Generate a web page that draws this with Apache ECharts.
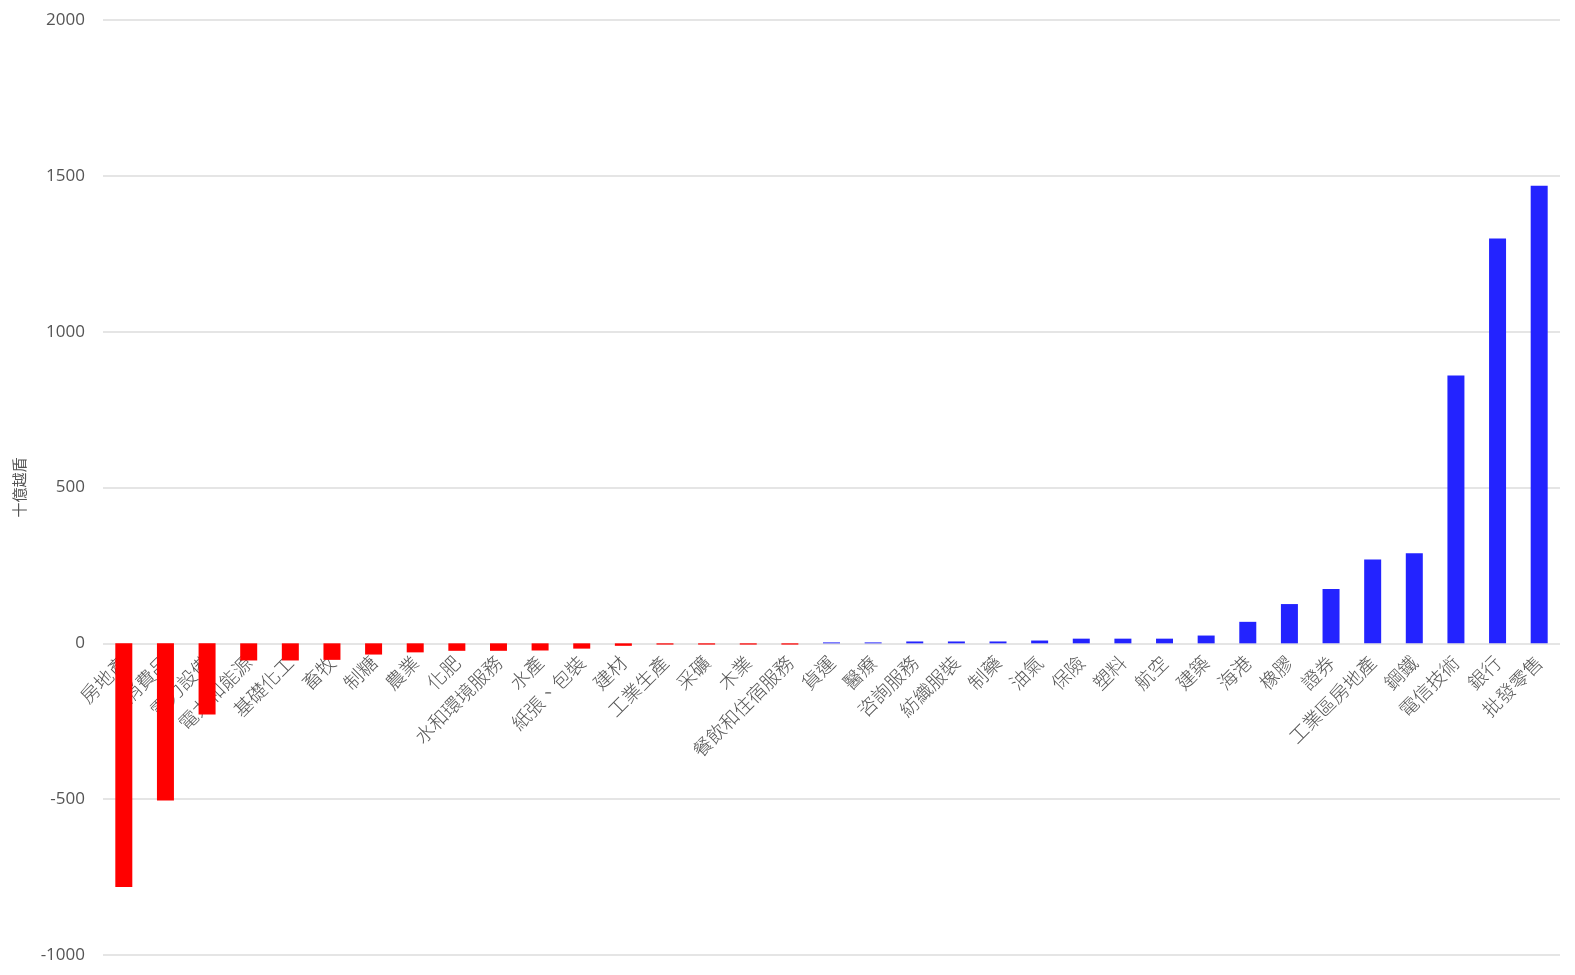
<!DOCTYPE html>
<html>
<head>
<meta charset="utf-8">
<script src="https://cdn.jsdelivr.net/npm/echarts@6/dist/echarts.min.js"></script>
<style>
html,body{margin:0;padding:0;background:#fff;}
#chart{width:1575px;height:975px;}
</style>
</head>
<body>
<div id="chart"></div>
<script>
const categories = ['房地產','消費品','電力設備','電力和能源','基礎化工','畜牧','制糖','農業','化肥','水和環境服務','水產','紙張、包裝','建材','工業生產','采礦','木業','餐飲和住宿服務','貨運','醫療','咨詢服務','紡織服裝','制藥','油氣','保險','塑料','航空','建築','海港','橡膠','證券','工業區房地產','鋼鐵','電信技術','銀行','批發零售'];
const values = [-782,-504,-228,-55,-55,-53,-36,-29,-24,-24,-23,-17,-8,-4,-4,-4,-4,3,3,6,6,6,9,15,15,15,25,69,126,174,269,289,859,1299,1468];
const yTicks = [-1000,-500,0,500,1000,1500,2000];
const yName = '十億越盾';

const H = 975, TOP = 20, BOTTOM = 20;
const yMin = yTicks[0], yMax = yTicks[yTicks.length-1];
const plotH = H - TOP - BOTTOM;
const zeroOffset = -plotH * (0 - yMin) / (yMax - yMin);

const chart = echarts.init(document.getElementById('chart'));
chart.setOption({
  animation:false,
  grid:{left:103,right:15,top:TOP,bottom:BOTTOM,containLabel:false,outerBoundsMode:'none'},
  xAxis:{
    type:'category',
    data:categories,
    position:'bottom',
    offset:zeroOffset,
    axisLine:{show:false,onZero:false},
    axisTick:{show:false},
    axisLabel:{rotate:45,interval:0,color:'#555',fontSize:19,fontFamily:'Noto Sans CJK TC',fontWeight:300,margin:16}
  },
  yAxis:{
    type:'value',
    min:yMin,max:yMax,interval:500,
    name:yName,nameLocation:'middle',nameRotate:90,nameGap:76,
    nameTextStyle:{color:'#555',fontSize:15,fontFamily:'Noto Sans CJK TC'},
    axisLine:{show:false},axisTick:{show:false},
    axisLabel:{color:'#555',fontSize:17,fontFamily:'Open Sans',margin:18,formatter:v=>String(v)},
    splitLine:{lineStyle:{color:'#dddddd',width:1.5}}
  },
  series:[{
    type:'bar',
    data:values,
    barWidth:17,
    itemStyle:{color:p=>p.value<0?'#ff0000':'#2323ff'}
  }]
});
</script>
</body>
</html>
